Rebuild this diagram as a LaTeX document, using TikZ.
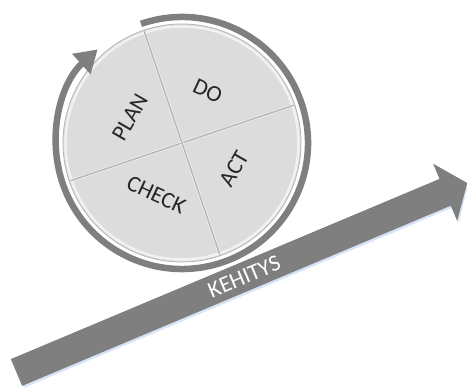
\documentclass[tikz,border=0pt]{standalone}
\usepackage{fontspec}
\setmainfont{Carlito}
\usetikzlibrary{arrows.meta}
\definecolor{pdcagray}{RGB}{127,127,127}
\definecolor{discfill}{RGB}{220,220,220}
\definecolor{discline}{RGB}{182,182,182}
\definecolor{glowblue}{RGB}{214,228,245}

\begin{document}
\begin{tikzpicture}[x=1pt, y=1pt,
    every node/.style={font=\fontsize{23}{27}\selectfont},
    phase/.style={text=black!85, inner sep=0pt},
    ring/.style={draw=pdcagray, line width=6.5pt, -{Triangle[length=22pt, width=26pt]}},
    divider/.style={draw=discline, line width=1.4pt},
    trend/.style={fill=pdcagray}
]
\useasboundingbox (0,0) rectangle (467,388);

% development arrow
\coordinate (tail) at (16.5,15.5);
\begin{scope}[shift={(tail)}, rotate=22.8]
  \fill[glowblue] (1,-17) -- (466,-17) -- (466,-33) -- (489,-2) -- (466,14.5) -- (1,14.5) -- cycle;
  \fill[trend] (0,-14.5) -- (465,-14.5) -- (465,-31) -- (489,0) -- (465,31) -- (465,14.5) -- (0,14.5) -- cycle;
  \node[text=white, inner sep=0pt, rotate=22.8] (kehitys) at (247,0) {KEHITYS};
\end{scope}

% PDCA disc
\coordinate (hub) at (182,245);
\fill[discfill] (hub) circle[radius=119];
\draw[white, opacity=0.6, line width=2.5pt] (hub) circle[radius=116.5];
\draw[discline, line width=0.8pt] (hub) circle[radius=119];
\foreach \a in {18.7,108.7} {
    \draw[white, opacity=0.5, line width=3pt] (hub) ++(\a:118) -- ++(\a+180:236);
    \draw[divider] (hub) ++(\a:118) -- ++(\a+180:236);
}
\draw[ring] (hub) ++(109:126) arc[start angle=109, end angle=-228, radius=126];

\path (hub) ++(63.7:58) node[phase, rotate=-25] (do) {DO};
\path (hub) ++(153.7:58) node[phase, rotate=60] (plan) {PLAN};
\path (hub) ++(243.7:58) node[phase, rotate=-25] (check) {CHECK};
\path (hub) ++(333.7:58) node[phase, rotate=60] (act) {ACT};

\end{tikzpicture}
\end{document}
